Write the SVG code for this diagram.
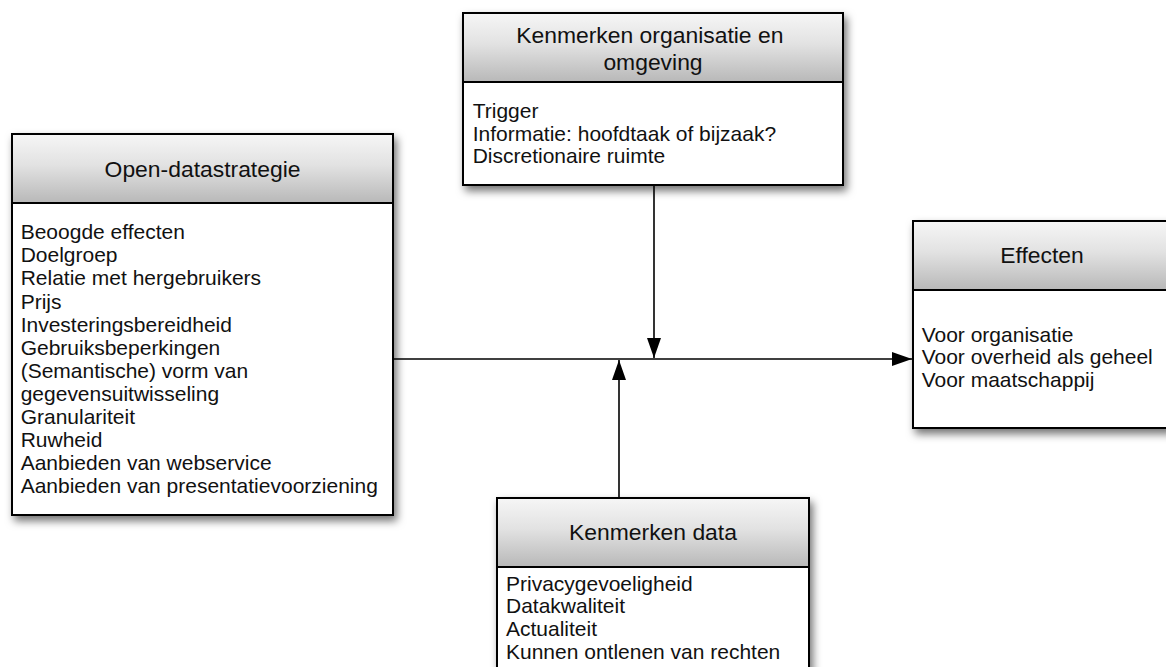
<svg xmlns="http://www.w3.org/2000/svg" width="1166" height="667" viewBox="0 0 1166 667">
<defs>
<linearGradient id="hg" x1="0" y1="0" x2="0" y2="1">
<stop offset="0" stop-color="#f6f6f6"/>
<stop offset="0.45" stop-color="#e2e2e2"/>
<stop offset="1" stop-color="#b8b8b8"/>
</linearGradient>
<filter id="sh" x="-10%" y="-10%" width="125%" height="125%">
<feDropShadow dx="3" dy="5" stdDeviation="4" flood-color="#000" flood-opacity="0.55"/>
</filter>
<marker id="ah" markerUnits="userSpaceOnUse" markerWidth="20" markerHeight="14" refX="20" refY="7" orient="auto">
<path d="M0,0 L20,7 L0,14 z" fill="#000"/>
</marker>
</defs>
<style>
.box{fill:#fff;stroke:#000;stroke-width:2;filter:url(#sh)}
.hdr{fill:url(#hg);stroke:#000;stroke-width:2}
.t{font-family:"Liberation Sans",Arial,Helvetica,sans-serif;fill:#111}
.title{font-size:21.8px;text-anchor:middle}
.body{font-size:20px}
.conn{stroke:#000;stroke-width:1.6;fill:none}
</style>

<g id="connectors">
<line class="conn" x1="393" y1="359" x2="912" y2="359" marker-end="url(#ah)"/>
<line class="conn" x1="654" y1="185" x2="654" y2="358" marker-end="url(#ah)"/>
<line class="conn" x1="619" y1="498" x2="619" y2="360" marker-end="url(#ah)"/>
</g>

<g id="open-datastrategie">
<rect class="box" x="12" y="134" width="381" height="381"/>
<rect class="hdr" x="12" y="134" width="381" height="69"/>
<text class="t title" transform="scale(1.05 1)" x="192.9" y="177">Open-datastrategie</text>
<text class="t body" transform="scale(1.05 1)">
<tspan x="19.7" y="239.3">Beoogde effecten</tspan>
<tspan x="19.7" y="262.4">Doelgroep</tspan>
<tspan x="19.7" y="285.5">Relatie met hergebruikers</tspan>
<tspan x="19.7" y="308.6">Prijs</tspan>
<tspan x="19.7" y="331.7">Investeringsbereidheid</tspan>
<tspan x="19.7" y="354.8">Gebruiksbeperkingen</tspan>
<tspan x="19.7" y="377.9">(Semantische) vorm van</tspan>
<tspan x="19.7" y="401">gegevensuitwisseling</tspan>
<tspan x="19.7" y="424.1">Granulariteit</tspan>
<tspan x="19.7" y="447.2">Ruwheid</tspan>
<tspan x="19.7" y="470.3">Aanbieden van webservice</tspan>
<tspan x="19.7" y="493.4">Aanbieden van presentatievoorziening</tspan>
</text>
</g>

<g id="kenmerken-organisatie">
<rect class="box" x="463" y="13" width="380" height="172"/>
<rect class="hdr" x="463" y="13" width="380" height="69"/>
<text class="t title" transform="scale(1.05 1)">
<tspan x="621.9" y="43.5">Kenmerken organisatie en</tspan>
<tspan x="621.9" y="70">omgeving</tspan>
</text>
<text class="t body" transform="scale(1.05 1)">
<tspan x="450.2" y="118.5">Trigger</tspan>
<tspan x="450.2" y="141">Informatie: hoofdtaak of bijzaak?</tspan>
<tspan x="450.2" y="163.5">Discretionaire ruimte</tspan>
</text>
</g>

<g id="effecten">
<rect class="box" x="913" y="221" width="257" height="207"/>
<rect class="hdr" x="913" y="221" width="257" height="69"/>
<text class="t title" transform="scale(1.05 1)" x="992.4" y="263.5">Effecten</text>
<text class="t body" transform="scale(1.05 1)">
<tspan x="877.8" y="342">Voor organisatie</tspan>
<tspan x="877.8" y="364.5">Voor overheid als geheel</tspan>
<tspan x="877.8" y="387">Voor maatschappij</tspan>
</text>
</g>

<g id="kenmerken-data">
<rect class="box" x="497" y="498" width="312" height="200"/>
<rect class="hdr" x="497" y="498" width="312" height="69"/>
<text class="t title" transform="scale(1.05 1)" x="621.9" y="540">Kenmerken data</text>
<text class="t body" transform="scale(1.05 1)">
<tspan x="481.9" y="591">Privacygevoeligheid</tspan>
<tspan x="481.9" y="613.5">Datakwaliteit</tspan>
<tspan x="481.9" y="636.5">Actualiteit</tspan>
<tspan x="481.9" y="659.5">Kunnen ontlenen van rechten</tspan>
</text>
</g>
</svg>
